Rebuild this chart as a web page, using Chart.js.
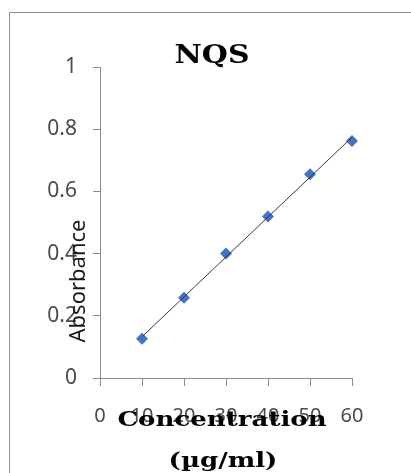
<!DOCTYPE html>
<html>
<head>
<meta charset="utf-8">
<script src="https://cdn.jsdelivr.net/npm/chart.js@4/dist/chart.umd.min.js"></script>
<style>
  html, body { margin: 0; padding: 0; background: #ffffff; }
  #wrap { width: 411px; height: 473px; }
</style>
</head>
<body>
<div id="wrap"><canvas id="c" width="411" height="473"></canvas></div>
<script>
// ---- data ----
const chartTitle = 'NQS';
const xTitleLines = ['Concentration', '(µg/ml)'];
const yTitle = 'Absorbance';
const concentration = [10, 20, 30, 40, 50, 60];
const absorbance = [0.126, 0.258, 0.400, 0.519, 0.655, 0.762];
const xTickLabels = ['0', '10', '20', '30', '40', '50', '60'];
const yTickLabels = ['0', '0.2', '0.4', '0.6', '0.8', '1'];

// linear trendline (least squares) derived from the data
function trendline(xs, ys) {
  const n = xs.length;
  const mx = xs.reduce((a, b) => a + b, 0) / n;
  const my = ys.reduce((a, b) => a + b, 0) / n;
  let sxy = 0, sxx = 0;
  for (let i = 0; i < n; i++) { sxy += (xs[i] - mx) * (ys[i] - my); sxx += (xs[i] - mx) ** 2; }
  const m = sxy / sxx, b = my - m * mx;
  const x0 = Math.min(...xs), x1 = Math.max(...xs);
  return [{ x: x0, y: m * x0 + b }, { x: x1, y: m * x1 + b }];
}

const textPlugin = {
  id: 'texts',
  afterDraw(chart) {
    const ctx = chart.ctx;
    ctx.save();
    // outer frame
    ctx.strokeStyle = '#8c8c8c';
    ctx.lineWidth = 1;
    ctx.beginPath();
    ctx.moveTo(9.5, 473);
    ctx.lineTo(9.5, 12.5);
    ctx.lineTo(411, 12.5);
    ctx.stroke();

    ctx.fillStyle = '#000000';
    ctx.textAlign = 'center';

    // title
    ctx.save();
    ctx.translate(212, 63);
    ctx.scale(1.15, 1);
    ctx.font = 'bold 26px "DejaVu Serif"';
    ctx.textBaseline = 'alphabetic';
    ctx.fillText(chartTitle, 0, 0);
    ctx.restore();

    // y title
    ctx.save();
    ctx.translate(85, 281);
    ctx.rotate(-Math.PI / 2);
    ctx.font = '22px "Noto Sans"';
    ctx.fillStyle = '#1a1a1a';
    ctx.textBaseline = 'alphabetic';
    ctx.fillText(yTitle, 0, 0);
    ctx.restore();

    // x title
    ctx.font = 'bold 21px "DejaVu Serif"';
    ctx.textBaseline = 'alphabetic';
    ctx.save();
    ctx.translate(222, 426);
    ctx.scale(1.24, 1);
    ctx.fillText(xTitleLines[0], 0, 0);
    ctx.restore();
    ctx.save();
    ctx.translate(223, 467);
    ctx.scale(1.24, 1);
    ctx.fillText(xTitleLines[1], 0, 0);
    ctx.restore();

    ctx.restore();
  }
};

new Chart(document.getElementById('c'), {
  type: 'scatter',
  data: {
    datasets: [
      {
        type: 'line',
        label: 'Trend',
        data: trendline(concentration, absorbance),
        borderColor: '#3a3a3a',
        borderWidth: 1,
        pointRadius: 0,
        fill: false,
        clip: false,
        order: 0
      },
      {
        label: 'NQS',
        data: concentration.map((x, i) => ({ x: x, y: absorbance[i] })),
        pointStyle: 'rectRot',
        pointRadius: 6,
        pointBackgroundColor: '#4472c4',
        pointBorderColor: '#4472c4',
        pointBorderWidth: 0,
        showLine: false,
        clip: false,
        order: 1
      }
    ]
  },
  options: {
    responsive: false,
    animation: false,
    devicePixelRatio: 1,
    layout: { padding: { top: 67, right: 59, bottom: 0, left: 0 } },
    plugins: {
      legend: { display: false },
      title: { display: false },
      tooltip: { enabled: false }
    },
    scales: {
      x: {
        type: 'linear',
        min: 0, max: 60,
        afterFit(s) { s.height = 95; s.paddingLeft = 0; s.paddingRight = 0; },
        afterBuildTicks(s) { s.ticks = xTickLabels.map(v => ({ value: Number(v) })); },
        ticks: {
          stepSize: 10,
          padding: 18,
          color: '#4a4a4a',
          font: { family: 'Noto Sans', size: 20 },
          maxRotation: 0,
          callback: (v, i) => xTickLabels[i]
        },
        grid: { drawOnChartArea: false, tickLength: 8, color: '#8c8c8c', tickColor: '#8c8c8c' },
        border: { display: true, color: '#8c8c8c', width: 1 }
      },
      y: {
        type: 'linear',
        min: 0, max: 1,
        afterFit(s) { s.width = 100; s.paddingTop = 0; s.paddingBottom = 0; },
        afterBuildTicks(s) { s.ticks = yTickLabels.map(v => ({ value: Number(v) })); },
        ticks: {
          stepSize: 0.2,
          padding: 16,
          color: '#4a4a4a',
          font: { family: 'Noto Sans', size: 21 },
          callback: (v, i) => yTickLabels[i]
        },
        grid: { drawOnChartArea: false, tickLength: 7, color: '#8c8c8c', tickColor: '#8c8c8c' },
        border: { display: true, color: '#8c8c8c', width: 1 }
      }
    }
  },
  plugins: [textPlugin]
});
</script>
</body>
</html>
